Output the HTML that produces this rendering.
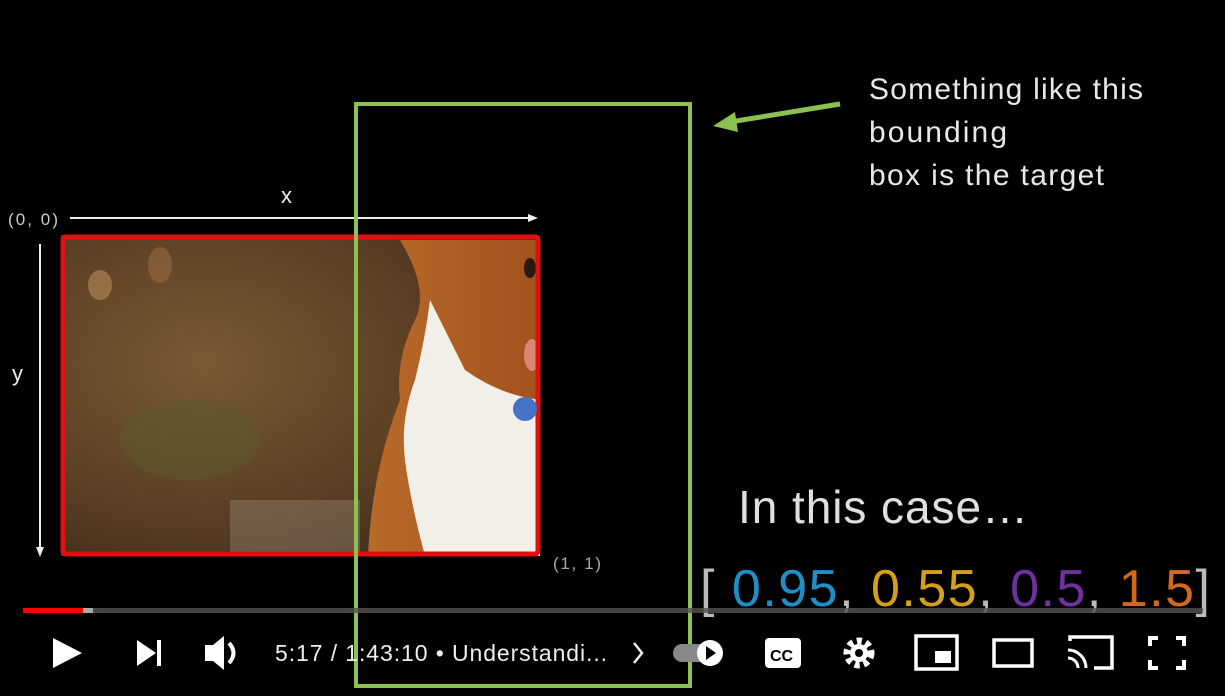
<!DOCTYPE html>
<html><head><meta charset="utf-8"><style>
body{margin:0;background:#000;width:1225px;height:691px;overflow:hidden;font-family:"Liberation Sans","DejaVu Sans",sans-serif}
</style></head><body>
<svg width="1225" height="691" xmlns="http://www.w3.org/2000/svg">
<defs>
<radialGradient id="bg" cx="0.3" cy="0.4" r="0.8">
<stop offset="0" stop-color="#7a5a32"/><stop offset="0.6" stop-color="#5a3e24"/><stop offset="1" stop-color="#3a2818"/>
</radialGradient>
<linearGradient id="fur" x1="0" y1="0" x2="1" y2="0">
<stop offset="0" stop-color="#b86a2a"/><stop offset="1" stop-color="#a2521c"/>
</linearGradient>
</defs>
<rect width="1225" height="691" fill="#000"/>
<rect x="61" y="235" width="479" height="321" fill="url(#bg)"/>
<ellipse cx="190" cy="440" rx="70" ry="40" fill="#5a5a2a" opacity="0.5"/>
<ellipse cx="100" cy="285" rx="12" ry="15" fill="#b88a5a" opacity="0.6"/>
<ellipse cx="160" cy="265" rx="12" ry="18" fill="#a07048" opacity="0.5"/>
<rect x="230" y="500" width="130" height="56" fill="#8a7a68" opacity="0.5"/>
<path d="M400 240 L540 240 L540 556 L368 556 Q372 470 400 400 Q395 360 415 320 Q430 290 400 240Z" fill="url(#fur)"/>
<path d="M430 300 Q450 340 465 370 Q500 395 540 400 L540 556 L425 556 Q410 500 405 460 Q400 420 415 380 Q425 340 430 300Z" fill="#f2eee8"/>
<ellipse cx="530" cy="268" rx="6" ry="10" fill="#2a1a10"/>
<ellipse cx="532" cy="355" rx="8" ry="16" fill="#d88878"/>
<rect x="63" y="237" width="475" height="317" rx="3" fill="none" stroke="#e01010" stroke-width="5"/>
<circle cx="525" cy="409" r="12" fill="#4472c4"/>
<line x1="70" y1="218" x2="530" y2="218" stroke="#eee" stroke-width="2"/>
<path d="M538 218 L528 214 L528 222Z" fill="#eee"/>
<line x1="40" y1="244" x2="40" y2="550" stroke="#eee" stroke-width="2"/>
<path d="M40 557 L36 547 L44 547Z" fill="#eee"/>
<text x="281" y="203" fill="#eee" font-size="22">x</text>
<text x="12" y="381" fill="#eee" font-size="22">y</text>
<text x="8" y="225" fill="#ccc" font-size="17" textLength="50">(0, 0)</text>
<text x="553" y="569" fill="#aaa" font-size="17" textLength="48">(1, 1)</text>
<rect x="356" y="104" width="334" height="582" fill="none" stroke="#8cc152" stroke-width="4"/>
<line x1="840" y1="104" x2="730" y2="122" stroke="#8cc152" stroke-width="5"/>
<path d="M713 126 L735 112 L738 132Z" fill="#8cc152"/>
<text fill="#e8e8e8" font-size="30"><tspan x="869" y="99" textLength="274">Something like this</tspan></text>
<text fill="#e8e8e8" font-size="30" x="869" y="142" textLength="138">bounding</text>
<text fill="#e8e8e8" font-size="30" x="869" y="185" textLength="235">box is the target</text>
<text x="738" y="523" fill="#e0e0e0" font-size="46" textLength="290">In this case…</text>
<text x="700" y="606" font-size="52" fill="#bbb" textLength="510">[ <tspan fill="#1f8fc8">0.95</tspan>, <tspan fill="#d4a017">0.55</tspan>, <tspan fill="#7030a0">0.5</tspan>, <tspan fill="#d2691e">1.5</tspan>]</text>
<rect x="23" y="608" width="1180" height="5" fill="#555" opacity="0.8"/>
<rect x="23" y="608" width="60" height="5" fill="#f00"/>
<rect x="83" y="608" width="10" height="5" fill="#aaa"/>
<path d="M53 638 L82 653 L53 668Z" fill="#fff"/>
<path d="M137 640 L156 653 L137 666Z" fill="#fff"/><rect x="157" y="640" width="4" height="26" fill="#fff"/>
<path d="M205 645 L213 645 L224 636 L224 670 L213 661 L205 661Z" fill="#fff"/>
<path d="M229 643 Q238 653 229 663" stroke="#fff" stroke-width="4" fill="none"/>
<text x="275" y="661" fill="#eee" font-size="23" textLength="332">5:17 / 1:43:10 • Understandi...</text>
<path d="M634 643 L642 653 L634 663" stroke="#eee" stroke-width="2.5" fill="none"/>
<rect x="673" y="644" width="36" height="18" rx="9" fill="#888"/>
<circle cx="710" cy="653" r="13" fill="#fff"/><path d="M706 646 L716 653 L706 660Z" fill="#000"/>
<rect x="765" y="638" width="36" height="30" rx="4" fill="#fff"/>
<text x="770" y="661" font-size="16" font-weight="bold" fill="#000">CC</text>
<circle cx="859" cy="653" r="12" fill="none" stroke="#fff" stroke-width="7" stroke-dasharray="5 4"/>
<circle cx="859" cy="653" r="9" fill="#fff"/><circle cx="859" cy="653" r="4" fill="#000"/>
<rect x="916" y="636" width="41" height="33" fill="none" stroke="#fff" stroke-width="3.5"/>
<rect x="935" y="651" width="16" height="12" fill="#fff"/>
<rect x="994" y="640" width="38" height="26" fill="none" stroke="#fff" stroke-width="3.5"/>
<path d="M1070 641 L1070 637 L1112 637 L1112 668 L1094 668" stroke="#fff" stroke-width="3.5" fill="none"/>
<path d="M1068 650 A18 18 0 0 1 1086 668 M1068 658 A10 10 0 0 1 1078 668" stroke="#fff" stroke-width="3" fill="none"/>
<path d="M1150 646 L1150 638 L1158 638 M1176 638 L1184 638 L1184 646 M1184 660 L1184 668 L1176 668 M1158 668 L1150 668 L1150 660" stroke="#fff" stroke-width="4" fill="none"/>
</svg>
</body></html>
